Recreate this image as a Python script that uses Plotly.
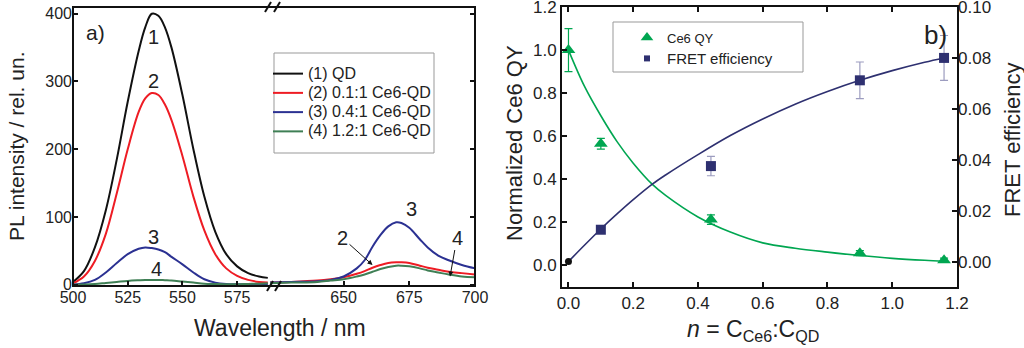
import plotly.graph_objects as go

W, H = 1024, 348
FONT = "Liberation Sans, Arial, Helvetica, sans-serif"

# ---------------- panel a) PL spectra (broken wavelength axis) ----------------
wl_qd_band = [500, 505, 510, 515, 520, 525, 530, 533, 536, 539, 542, 545, 550,
              555, 560, 565, 570, 575, 580, 585, 589]
pl_qd_band = {
    "qd":   [4, 20, 55, 110, 185, 270, 345, 380, 400, 397, 380, 350, 280,
             200, 130, 78, 45, 27, 17, 12, 10],
    "r01":  [2, 12, 35, 75, 135, 200, 255, 275, 283, 280, 266, 243, 190,
             130, 80, 45, 24, 13, 7, 4, 3],
    "r04":  [0, 2, 7, 18, 32, 45, 53, 55, 54, 52, 48, 41, 30,
             18, 8, 3, 1, 0.5, 0.5, 0.8, 1],
    "r12":  [0, 0.3, 1, 2.5, 4, 5.5, 6.5, 7, 7, 7, 6.5, 6, 4.5,
             3, 1.5, 1, 0.5, 0.5, 1, 1.5, 2],
}

wl_ce6_band = [622, 630, 640, 645, 650, 655, 658, 661, 664, 667, 670, 672,
               675, 679, 682, 686, 690, 695, 700]
pl_ce6_band = {
    "r01":  [3, 4, 6, 8, 11, 16, 20, 25, 29, 32, 33, 33,
             32, 28, 25, 22, 19, 17, 15],
    "r04":  [3, 4, 5, 7, 12, 24, 36, 56, 73, 86, 92, 91,
             84, 67, 55, 43, 36, 29, 24],
    "r12":  [2, 3, 4, 6, 8, 12, 15, 19, 23, 26, 28, 28,
             27, 24, 21, 18, 15, 12, 11],
}

series_names = {
    "qd": "(1) QD",
    "r01": "(2) 0.1:1 Ce6-QD",
    "r04": "(3) 0.4:1 Ce6-QD",
    "r12": "(4) 1.2:1 Ce6-QD",
}
series_colors = {
    "qd": "#111111",
    "r01": "#ee1c24",
    "r04": "#2b3192",
    "r12": "#3f7f55",
}

# ---------------- panel b) Ce6 QY and FRET efficiency ----------------
n_points = [0.0, 0.1, 0.44, 0.9, 1.16]
ce6_qy = [1.0, 0.565, 0.213, 0.057, 0.024]
ce6_qy_err = [0.1, 0.025, 0.022, 0.012, 0.01]

n_fret = [0.1, 0.44, 0.9, 1.16]
fret_eff = [0.0125, 0.0375, 0.0712, 0.0800]
fret_err = [0.0008, 0.0038, 0.0072, 0.0088]

n_ref = [0.0]
fret_ref = [0.0]

n_fit = [0.0, 0.05, 0.1, 0.15, 0.2, 0.26, 0.3, 0.4, 0.5, 0.6, 0.7, 0.8,
         0.9, 1.0, 1.1, 1.16]
qy_fit = [1.0, 0.83, 0.695, 0.575, 0.475, 0.375, 0.325, 0.225, 0.155, 0.105,
          0.08, 0.062, 0.046, 0.033, 0.024, 0.02]
fret_fit = [0.0, 0.0065, 0.0128, 0.0187, 0.0243, 0.0305, 0.0340, 0.0420,
            0.0495, 0.0560, 0.0618, 0.0668, 0.0712, 0.0750, 0.0783, 0.0800]

GREEN = "#00a651"
NAVY = "#2e3070"


def px(x):
    return x / W


def py(y):
    return 1 - y / H


fig = go.Figure()

# spectra: short-wavelength window
for key in ["qd", "r01", "r04", "r12"]:
    fig.add_trace(go.Scatter(
        x=wl_qd_band, y=pl_qd_band[key], mode="lines", line_shape="spline",
        line=dict(color=series_colors[key], width=2),
        name=f'<span style="font-size:16px">{series_names[key]}</span>',
        xaxis="x", yaxis="y", legend="legend",
    ))
# spectra: Ce6 emission window
for key in ["r01", "r04", "r12"]:
    fig.add_trace(go.Scatter(
        x=wl_ce6_band, y=pl_ce6_band[key], mode="lines", line_shape="spline",
        line=dict(color=series_colors[key], width=2),
        showlegend=False, xaxis="x2", yaxis="y2",
    ))

# panel b fits
fig.add_trace(go.Scatter(
    x=n_fit, y=qy_fit, mode="lines", line_shape="spline",
    line=dict(color=GREEN, width=1.6), showlegend=False,
    xaxis="x3", yaxis="y3",
))
fig.add_trace(go.Scatter(
    x=n_fit, y=fret_fit, mode="lines", line_shape="spline",
    line=dict(color=NAVY, width=1.6), showlegend=False,
    xaxis="x3", yaxis="y4",
))
# panel b measured points
fig.add_trace(go.Scatter(
    x=n_points, y=ce6_qy, mode="markers",
    marker=dict(symbol="triangle-up", size=12, color=GREEN),
    error_y=dict(type="data", array=ce6_qy_err, color=GREEN, thickness=1.2, width=4),
    showlegend=False, xaxis="x3", yaxis="y3",
))
fig.add_trace(go.Scatter(
    x=n_fret, y=fret_eff, mode="markers",
    marker=dict(symbol="square", size=10, color=NAVY),
    error_y=dict(type="data", array=fret_err, color="#9c9cbf", thickness=1.2, width=4),
    showlegend=False, xaxis="x3", yaxis="y4",
))
fig.add_trace(go.Scatter(
    x=n_ref, y=fret_ref, mode="markers",
    marker=dict(symbol="circle", size=7, color="#111111"),
    showlegend=False, xaxis="x3", yaxis="y4",
))
# legend entries for panel b
fig.add_trace(go.Scatter(
    x=[None], y=[None], mode="markers",
    marker=dict(symbol="triangle-up", size=11, color=GREEN),
    name='<span style="font-size:13px">Ce6 QY</span>',
    xaxis="x3", yaxis="y3", legend="legend2",
))
fig.add_trace(go.Scatter(
    x=[None], y=[None], mode="markers",
    marker=dict(symbol="square", size=6, color=NAVY),
    name='<span style="font-size:15px">FRET efficiency</span>',
    xaxis="x3", yaxis="y3", legend="legend2",
))

tick_a = dict(ticks="inside", ticklen=5, tickwidth=1.5, tickcolor="#111",
              showgrid=False, zeroline=False, showline=False, automargin=False,
              ticklabeloverflow="allow",
              tickfont=dict(size=16, color="#222", family=FONT))
tick_b = dict(ticks="inside", ticklen=5, tickwidth=1.5, tickcolor="#111",
              showgrid=False, zeroline=False, automargin=False,
              ticklabeloverflow="allow",
              tickfont=dict(size=17, color="#222", family=FONT))

ya_dom = [py(286), py(7)]
yb_dom = [py(287), py(7)]

fig.update_layout(
    width=W, height=H,
    margin=dict(l=0, r=0, t=0, b=0, pad=0, autoexpand=False),
    paper_bgcolor="white", plot_bgcolor="rgba(0,0,0,0)",
    font=dict(family=FONT, color="#222"),
    xaxis=dict(domain=[px(73), px(270)], range=[500, 590], anchor="y",
               tickvals=[500, 525, 550, 575], **tick_a),
    xaxis2=dict(domain=[px(270), px(475)], range=[622, 700], anchor="y2",
                tickvals=[650, 675, 700], **tick_a),
    yaxis=dict(domain=ya_dom, range=[-2, 410], anchor="x",
               tickvals=[0, 100, 200, 300, 400], **tick_a),
    yaxis2=dict(domain=ya_dom, range=[-2, 410], anchor="x2", side="right",
                tickvals=[0, 100, 200, 300, 400], showticklabels=False, **tick_a),
    xaxis3=dict(domain=[px(562), px(957)], range=[-0.02, 1.2], anchor="y3",
                tickvals=[0, 0.2, 0.4, 0.6, 0.8, 1.0, 1.2], tickformat=".1f",
                showline=True, linewidth=2, linecolor="#111", mirror="ticks",
                **tick_b),
    yaxis3=dict(domain=yb_dom, range=[-0.1, 1.2], anchor="x3",
                tickvals=[0, 0.2, 0.4, 0.6, 0.8, 1.0, 1.2], tickformat=".1f",
                showline=True, linewidth=2, linecolor="#111", mirror=True,
                **tick_b),
    yaxis4=dict(domain=yb_dom, range=[-0.01, 0.10], anchor="x3", overlaying="y3",
                side="right", tickvals=[0, 0.02, 0.04, 0.06, 0.08, 0.10],
                tickformat=".2f", showline=False, **tick_b),
    legend=dict(x=px(268), y=py(59), xanchor="left", yanchor="top",
                bgcolor="rgba(0,0,0,0)", borderwidth=0, itemwidth=30,
                font=dict(size=12.5, family=FONT, color="#222"), tracegroupgap=0),
    legend2=dict(x=px(627), y=py(22), xanchor="left", yanchor="top",
                 bgcolor="rgba(0,0,0,0)", borderwidth=0, itemwidth=30,
                 font=dict(size=13.8, family=FONT, color="#222"), tracegroupgap=0),
)

shapes = [
    # frame of panel a
    dict(type="rect", xref="paper", yref="paper", x0=px(73), x1=px(475),
         y0=py(286), y1=py(7), line=dict(color="#111", width=2)),
    # legend boxes
    dict(type="rect", xref="paper", yref="paper", x0=px(274), x1=px(434),
         y0=py(153), y1=py(53), line=dict(color="#999", width=1)),
    dict(type="rect", xref="paper", yref="paper", x0=px(613), x1=px(803),
         y0=py(72), y1=py(22), line=dict(color="#999", width=1)),
]
# axis break marks
for cx, cy in [(268, 7), (277, 7), (270, 286), (278, 286)]:
    shapes.append(dict(type="line", xref="paper", yref="paper",
                       x0=px(cx - 3), y0=py(cy + 5), x1=px(cx + 3), y1=py(cy - 5),
                       line=dict(color="#111", width=2)))
fig.update_layout(shapes=shapes)


def label(text, x, y, size, xref="paper", yref="paper", **kw):
    return dict(text=text, x=x, y=y, xref=xref, yref=yref, showarrow=False,
                xanchor="center", yanchor="middle",
                font=dict(size=size, family=FONT, color="#222"), **kw)


ann = []
# curve numbers, panel a
for txt, x, y in [("1", 536.6, 365), ("2", 537, 301), ("3", 537, 71), ("4", 538, 23)]:
    ann.append(label(txt, x, y, 20, xref="x", yref="y"))
ann.append(label("3", 676, 112, 20, xref="x2", yref="y2"))
ann.append(dict(text="2", x=661, y=29, xref="x2", yref="y2", showarrow=True,
                ax=-30, ay=-27, arrowhead=2, arrowsize=1, arrowwidth=1,
                arrowcolor="#111", font=dict(size=20, family=FONT, color="#222")))
ann.append(dict(text="4", x=690.5, y=12, xref="x2", yref="y2", showarrow=True,
                ax=7, ay=-39, arrowhead=2, arrowsize=1, arrowwidth=1,
                arrowcolor="#111", font=dict(size=20, family=FONT, color="#222")))
# panel labels
ann.append(label("a)", px(95), py(32), 21))
ann.append(label("b)", px(935), py(35), 26))
# axis titles
ann.append(label("PL intensity / rel. un.", px(16), py(147), 21, textangle=-90))
ann.append(label("Wavelength / nm", px(280), py(328), 23))
ann.append(label("Normalized Ce6 QY", px(514), py(143), 22, textangle=-90))
ann.append(label("FRET efficiency", px(1012), py(140), 22, textangle=-90))
ann.append(label("<i>n</i> = C<sub>Ce6</sub>:C<sub>QD</sub>", px(753), py(330), 23))
fig.update_layout(annotations=ann)

fig.write_html("out.html")
